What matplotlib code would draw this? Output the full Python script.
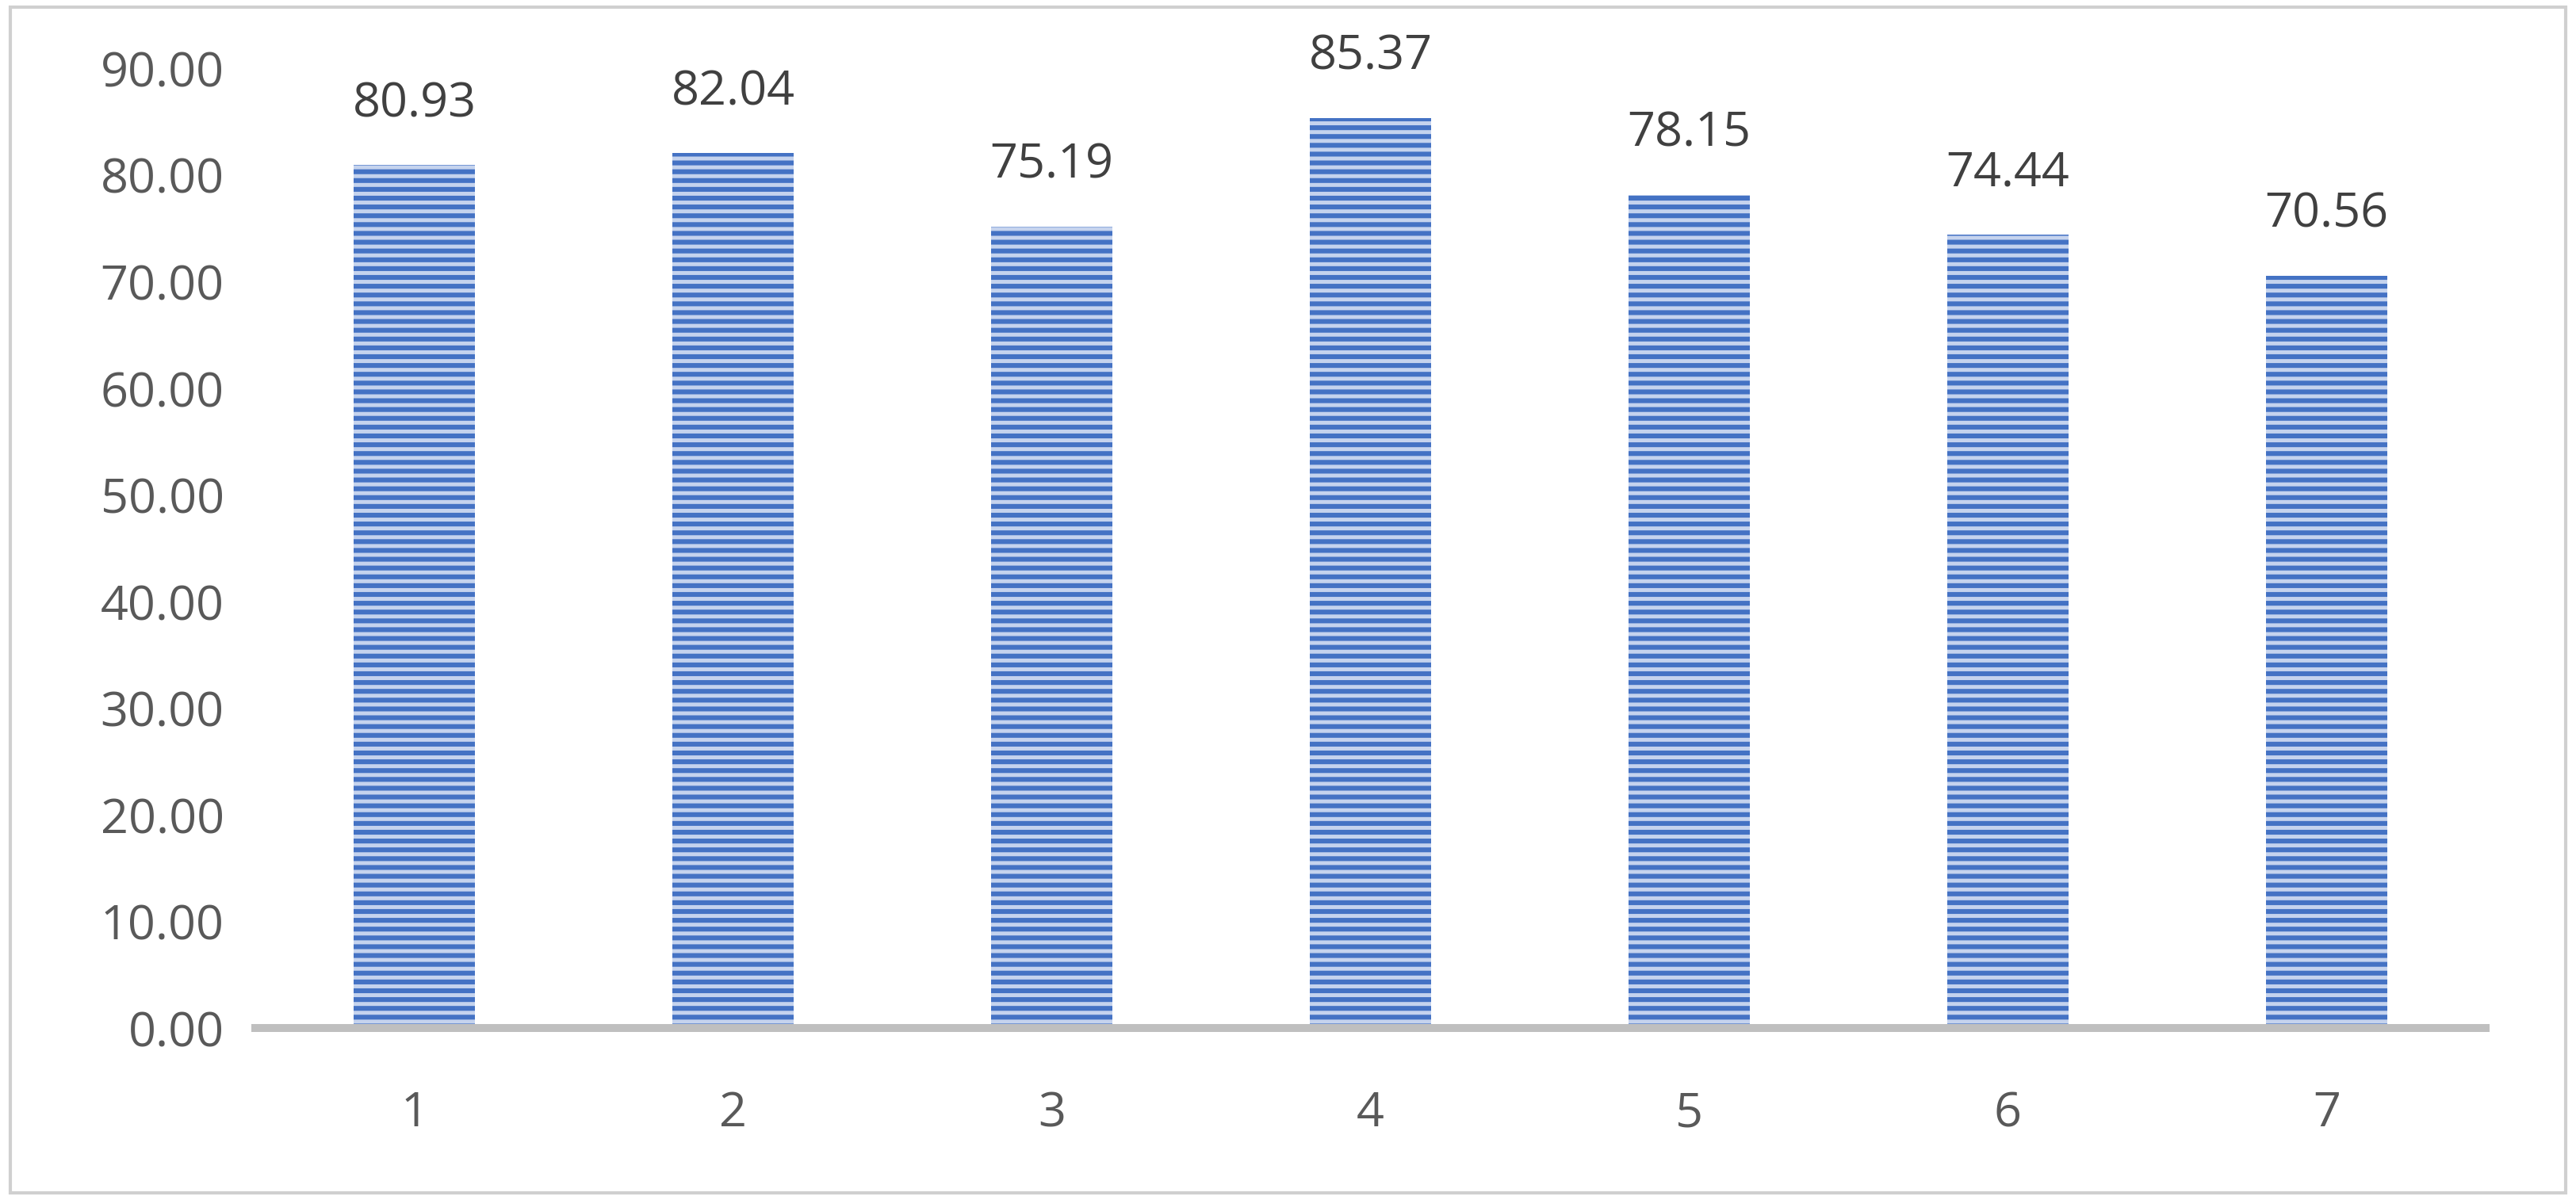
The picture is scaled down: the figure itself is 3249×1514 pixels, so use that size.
import matplotlib.pyplot as plt
from matplotlib.patches import Rectangle

categories = ['1', '2', '3', '4', '5', '6', '7']
values = [80.93, 82.04, 75.19, 85.37, 78.15, 74.44, 70.56]

plt.rcParams['font.family'] = ['Open Sans', 'DejaVu Sans']
plt.rcParams['hatch.linewidth'] = 2.2

fig = plt.figure(figsize=(16.245, 7.57), dpi=200)
ax = fig.add_axes([0.099, 0.143, 0.866, 0.8])

x = range(len(categories))
ax.bar(x, values, width=0.38, color='#c5d3ee', edgecolor='#4472c4',
       hatch='---', linewidth=0)
for xi, v in zip(x, values):
    ax.text(xi, v + 3.5, f'{v:.2f}', ha='center', va='bottom',
            fontsize=22, color='#404040')

ax.set_xlim(-0.5, 6.5)
ax.set_ylim(0, 90)
ax.set_yticks(range(0, 91, 10))
ax.set_yticklabels([f'{t:.2f}' for t in range(0, 91, 10)])
ax.set_xticks(list(x))
ax.set_xticklabels(categories)
ax.tick_params(length=0, labelsize=22, labelcolor='#595959')
ax.tick_params(axis='x', pad=28)
ax.tick_params(axis='y', pad=14)
for s in ['top', 'right', 'left']:
    ax.spines[s].set_visible(False)
ax.spines['bottom'].set_color('#bfbfbf')
ax.spines['bottom'].set_linewidth(3.6)

fig.patches.append(Rectangle((0.004, 0.006), 0.992, 0.988, transform=fig.transFigure,
                             fill=False, edgecolor='#d0d0d0', linewidth=1.5))

fig.savefig('out.png', dpi=200)
